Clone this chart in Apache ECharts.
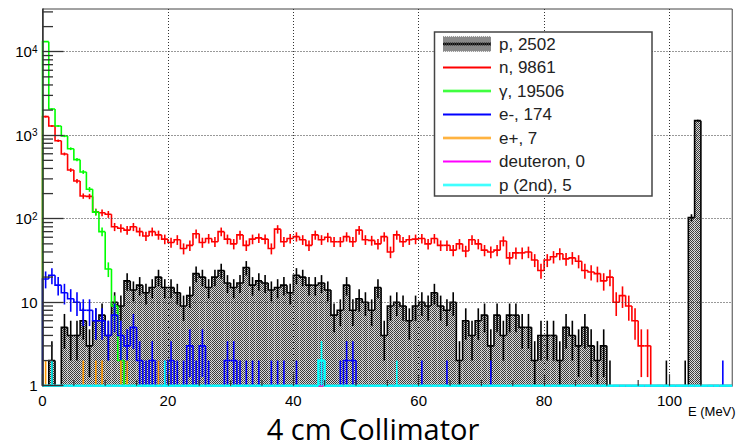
<!DOCTYPE html>
<html><head><meta charset="utf-8">
<script src="https://cdn.jsdelivr.net/npm/echarts@6/dist/echarts.min.js"></script>
<style>html,body{margin:0;padding:0;background:#fff}#c{width:738px;height:447px}</style>
</head><body><div id="c"></div>
<script>
// ---- histogram binning (1 MeV bins from 0 to 110 MeV) ----
const binStart = 0;
const binWidth = 1;

// ---- counts per bin ----
const pCounts = [
  0,2,0,5,4,4,6,3,6,7, 4,10,9,18,14,16,13,15,20,15,
  15,13,9,12,22,20,15,20,24,17, 15,17,26,16,18,17,14,15,16,13,
  21,20,16,16,17,14,7,8,16,8, 11,10,8,15,4,9,10,9,6,9,
  10,9,13,9,8,10,2,6,4,6, 7,3,7,4,7,7,5,5,2,4,
  4,4,2,5,4,3,5,3,2,3, 1,0,0,0,0,0,0,0,0,1,
  0,0,1,103,1495,0,0,0,0,0
];
const nCounts = [
  1670,1290,860,596,383,283,187,185,121,118, 113,80,77,73,80,70,62,70,64,57,
  52,56,44,48,66,52,58,53,70,57, 50,64,48,57,59,57,44,75,53,58,
  61,56,48,64,56,60,53,53,61,53, 73,56,55,50,61,40,64,53,56,57,
  58,50,58,48,48,42,50,41,56,50, 42,40,42,54,34,39,39,40,32,24,
  32,35,38,33,34,31,24,23,22,18, 20,10,12,9,6,3,3,0,0,0,
  0,0,0,0,0,0,0,0,0,0
];
const gammaCounts = [
  13200,2060,1290,980,690,510,363,225,120,70, 25,9,2,1,0,0,0,0,0,0,
  0,0,0,0,0,0,0,0,0,0, 0,0,0,0,0,0,0,0,0,0,
  0,0,0,0,0,0,0,0,0,0, 0,0,0,0,0,0,0,0,0,0,
  0,0,0,0,0,0,0,0,0,0, 0,0,0,0,0,0,0,0,0,0,
  0,0,0,0,0,0,0,0,0,0, 0,0,0,0,0,0,0,0,0,0,
  0,0,0,0,0,0,0,0,0,0
];
const eMinusCounts = [
  19,21,16,13,11,10,8,8,6,6, 4,7,4,3,5,2,1,2,1,1,
  2,1,1,3,1,3,1,0,0,2, 2,1,1,1,1,0,1,1,1,0,
  1,0,0,0,1,0,0,1,2,2, 0,0,0,0,0,0,0,0,0,0,
  1,0,0,0,1,0,0,0,0,0, 0,1,0,0,0,0,0,0,0,0,
  0,0,0,0,0,0,0,0,0,0, 0,0,0,0,0,0,0,0,0,0,
  0,0,0,0,0,0,0,0,1,0
];
const ePlusCounts = [
  1,0,0,0,0,0,1,0,1,1, 0,0,1,1,0,0,0,0,1,0,
  0,0,0,0,0,0,0,0,0,0, 0,0,0,0,0,0,0,0,0,0,
  0,0,0,0,0,0,0,0,0,0, 0,0,0,0,0,0,0,0,0,0,
  0,0,0,0,0,0,0,0,0,0, 0,0,0,0,0,0,0,0,0,0,
  0,0,0,0,0,0,0,0,0,0, 0,0,0,0,0,0,0,0,0,0,
  0,0,0,0,0,0,0,0,0,0
];
const deuteronCounts = [
  0,0,0,0,0,0,0,0,0,0, 0,0,0,0,0,0,0,0,0,0,
  0,0,0,0,0,0,0,0,0,0, 0,0,0,0,0,0,0,0,0,0,
  0,0,0,0,0,0,0,0,0,0, 0,0,0,0,0,0,0,0,0,0,
  0,0,0,0,0,0,0,0,0,0, 0,0,0,0,0,0,0,0,0,0,
  0,0,0,0,0,0,0,0,0,0, 0,0,0,0,0,0,0,0,0,0,
  0,0,0,0,0,0,0,0,0,0
];
const p2ndCounts = [
  0,1,0,0,0,0,0,0,0,0, 0,0,0,0,0,0,0,0,0,1,
  0,0,0,0,0,0,0,0,0,0, 0,0,0,0,0,0,0,0,0,0,
  0,0,0,0,2,0,0,0,0,0, 0,0,0,0,0,0,1,0,0,0,
  0,0,0,0,0,0,0,0,0,0, 0,0,0,0,0,0,0,0,0,0,
  0,0,0,0,0,0,0,0,0,0, 0,0,0,0,0,0,0,0,0,0,
  0,0,0,0,0,0,0,0,0,0
];

const seriesNames = ['p, 2502', 'n, 9861', 'γ, 19506', 'e-, 174', 'e+, 7', 'deuteron, 0', 'p (2nd), 5'];
const seriesColors = ['#000000', '#ff0000', '#00ff00', '#0000ff', '#ff9900', '#ff00ff', '#00ffff'];
const seriesWidths = [1.6, 1.6, 1.6, 1.6, 1.6, 1.6, 2.4];

// ---- axes ----
const xMin = 0, xMax = 110, xStep = 20;
const xMinorTicks = [5,10,15,25,30,35,45,50,55,65,70,75,85,90,95,105];
const yMin = 1, yMax = 32500;
const yMinorTicks = [2,3,4,5,6,7,8,9, 20,30,40,50,60,70,80,90, 200,300,400,500,600,700,800,900,
  2000,3000,4000,5000,6000,7000,8000,9000, 20000,30000];
const titleText = '4 cm Collimator';
const xTitle = 'E (MeV)';

// ---- fill pattern for the proton histogram ----
function patternCanvas() {
  const c = document.createElement('canvas'); c.width = 2; c.height = 2;
  const g = c.getContext('2d');
  g.fillStyle = '#dadada'; g.fillRect(0, 0, 2, 2);
  g.fillStyle = '#3a3a3a'; g.fillRect(0, 0, 1, 1); g.fillRect(1, 1, 1, 1);
  return c;
}
const patternFill = { image: patternCanvas().toDataURL(), repeat: 'repeat', imageWidth: 2, imageHeight: 2 };

function legendIcon(i) {
  const c = document.createElement('canvas'); c.width = 51; c.height = 15;
  const g = c.getContext('2d');
  if (i === 0) {
    g.fillStyle = g.createPattern(patternCanvas(), 'repeat'); g.fillRect(0, 0, 48, 15);
    g.fillStyle = '#000'; g.fillRect(0, 6.5, 48, 2);
  } else {
    g.fillStyle = seriesColors[i]; g.fillRect(0, 6.5, 48, 2);
  }
  return 'image://' + c.toDataURL();
}

function histSeries(idx, counts, filled) {
  const color = seriesColors[idx];
  const LW = seriesWidths[idx];
  const data = counts.map((v, i) => [binStart + i * binWidth, binStart + (i + 1) * binWidth, v, i > 0 ? counts[i - 1] : 0]);
  return {
    type: 'custom', name: seriesNames[idx], coordinateSystem: 'cartesian2d', clip: false,
    encode: { x: [0, 1], y: 2 }, data, z: 2,
    renderItem(params, api) {
      const x0 = api.value(0), x1 = api.value(1), v = api.value(2), pv = api.value(3);
      const yOf = (val) => api.coord([x0, Math.max(val, yMin)])[1];
      const X0 = api.coord([x0, yMin])[0], X1 = api.coord([x1, yMin])[0];
      const yb = yOf(yMin), yv = yOf(v), yp = yOf(pv);
      const children = [];
      if (filled && v > yMin) {
        children.push({ type: 'rect', shape: { x: X0, y: yv, width: X1 - X0, height: yb - yv },
          style: { fill: patternFill, stroke: null } });
      }
      children.push({ type: 'polyline', shape: { points: [[X0, yp], [X0, yv], [X1, yv]] },
        style: { stroke: color, lineWidth: LW, fill: null } });
      if (v > 0) {
        const e = Math.sqrt(v), xc = (X0 + X1) / 2;
        children.push({ type: 'line', shape: { x1: xc, y1: yOf(v - e), x2: xc, y2: yOf(v + e) },
          style: { stroke: color, lineWidth: 1.6 } });
      }
      return { type: 'group', children };
    }
  };
}

const chart = echarts.init(document.getElementById('c'), null, { renderer: 'svg' });
chart.setOption({
  animation: false,
  backgroundColor: '#ffffff',
  title: { text: titleText, left: 373, textAlign: 'center', bottom: 0, padding: 0,
    textStyle: { fontFamily: 'Open Sans', fontSize: 29, fontWeight: 'normal', color: '#000', lineHeight: 38 } },
  grid: { left: 42.5, right: -1, top: 9, bottom: 61.3, show: true, borderColor: '#444', borderWidth: 1, backgroundColor: 'transparent' },
  legend: {
    orient: 'vertical', left: 443, top: 35.5, itemWidth: 51, itemHeight: 15, itemGap: 6.5, padding: 0, z: 21,
    selectedMode: false,
    textStyle: { fontFamily: 'Liberation Sans', fontSize: 17, color: '#222', lineHeight: 17 },
    data: seriesNames.map((n, i) => ({ name: n, icon: legendIcon(i) }))
  },
  graphic: [{ type: 'rect', z: 20, shape: { x: 434.5, y: 32, width: 217.5, height: 164 },
    style: { fill: '#fff', stroke: '#444', lineWidth: 1.5 } }],
  xAxis: {
    type: 'value', min: xMin, max: xMax, interval: xStep, z: 5,
    axisLine: { show: false },
    axisTick: { inside: true, length: 11.5, lineStyle: { color: '#333', width: 1.2 } },
    axisLabel: { fontFamily: 'Liberation Sans', fontSize: 15, color: '#000', margin: 7, lineHeight: 15, showMaxLabel: false },
    splitLine: { show: true, showMinLine: false, showMaxLine: false, lineStyle: { color: '#333', type: [1, 2], width: 1 } },
    name: xTitle, nameLocation: 'end', nameGap: 0,
    nameTextStyle: { fontFamily: 'Liberation Sans', fontSize: 13, color: '#000', align: 'right', verticalAlign: 'top', padding: [19, 0, 0, 0] }
  },
  yAxis: {
    type: 'log', logBase: 10, min: yMin, max: yMax, z: 5,
    axisLine: { show: true, lineStyle: { color: '#333', width: 1.5 } },
    axisTick: { inside: true, length: 21, lineStyle: { color: '#333', width: 1.3 } },
    axisLabel: {
      margin: 5, showMaxLabel: false, fontFamily: 'Liberation Sans', color: '#000',
      formatter: (v) => {
        const k = Math.round(Math.log10(v));
        if (k === 0) return '{b|1}';
        if (k === 1) return '{b|10}';
        return '{b|10}{s|' + k + '}';
      },
      rich: {
        b: { fontFamily: 'Liberation Sans', fontSize: 15, lineHeight: 15, verticalAlign: 'bottom', color: '#000' },
        s: { fontFamily: 'Liberation Sans', fontSize: 10, lineHeight: 10, verticalAlign: 'top', padding: [0, 0, 8, 0], color: '#000' }
      }
    },
    splitLine: { show: true, showMinLine: false, showMaxLine: false, lineStyle: { color: '#333', type: [1, 2], width: 1 } }
  },
  series: [
    histSeries(0, pCounts, true),
    histSeries(1, nCounts, false),
    histSeries(2, gammaCounts, false),
    histSeries(3, eMinusCounts, false),
    histSeries(4, ePlusCounts, false),
    histSeries(5, deuteronCounts, false),
    histSeries(6, p2ndCounts, false),
    {
      type: 'custom', name: 'yMinor', silent: true, z: 6, coordinateSystem: 'cartesian2d',
      data: yMinorTicks.map(v => [xMin, v]), encode: { x: 0, y: 1 },
      renderItem(params, api) {
        const pt = api.coord([api.value(0), api.value(1)]);
        return { type: 'line', shape: { x1: pt[0], y1: pt[1], x2: pt[0] + 10.5, y2: pt[1] }, style: { stroke: '#333', lineWidth: 1.3 } };
      }
    },
    {
      type: 'custom', name: 'xMinor', silent: true, z: 6, coordinateSystem: 'cartesian2d',
      data: xMinorTicks.map(v => [v, yMin]), encode: { x: 0, y: 1 },
      renderItem(params, api) {
        const pt = api.coord([api.value(0), api.value(1)]);
        return { type: 'line', shape: { x1: pt[0], y1: pt[1], x2: pt[0], y2: pt[1] - 5.8 }, style: { stroke: '#333', lineWidth: 1.2 } };
      }
    }
  ]
});
</script></body></html>
